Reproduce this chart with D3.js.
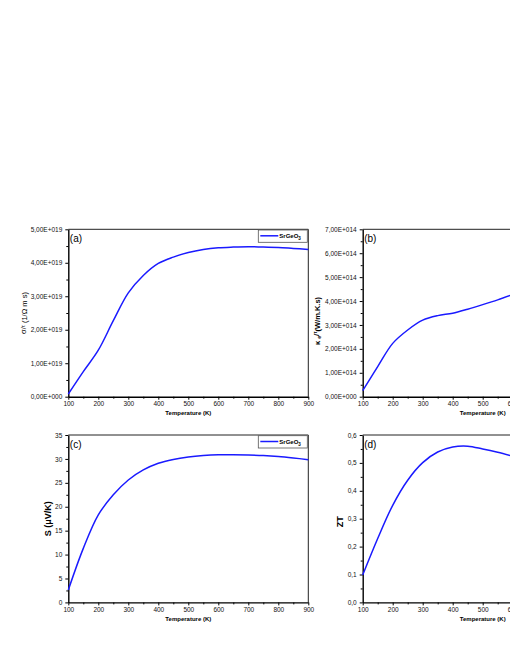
<!DOCTYPE html>
<meta charset="utf-8">
<body style="margin:0;overflow:hidden;background:#fff">
<style>
  text { font-family: "Liberation Sans", Arial, sans-serif; }
  .axis path.domain { stroke: #000; stroke-width: 1.4; }
  .axis line { stroke: #000; stroke-width: 1; }
</style>
<div id="chart"></div>
<script src="https://d3js.org/d3.v7.min.js"></script>
<script>
// temperature grid (K)
var tempsFull = [100, 150, 200, 250, 300, 350, 400, 450, 500, 550, 600, 650, 700, 750, 800, 850, 900];
var tempsShort = [100, 150, 200, 250, 300, 350, 400, 450, 500, 550, 600];

// (a) sigma/tau, in units of 1E+019
var sigmaTau = [0.08, 0.75, 1.39, 2.27, 3.1, 3.62, 3.98, 4.17, 4.31, 4.4, 4.45, 4.47, 4.48, 4.47, 4.46, 4.43, 4.4];
// (b) kappa_e/tau, in units of 1E+014 (only up to ~600 K is visible)
var kappaTau = [0.25, 1.26, 2.23, 2.79, 3.2, 3.39, 3.49, 3.66, 3.85, 4.05, 4.27];
// (c) Seebeck (uV/K)
var seebeck = [2.6, 11.3, 18.3, 22.5, 25.6, 27.7, 29.1, 29.9, 30.4, 30.7, 30.85, 30.85, 30.8, 30.7, 30.5, 30.2, 29.85];
// (d) ZT
var zt = [0.098, 0.229, 0.348, 0.438, 0.501, 0.539, 0.557, 0.56, 0.55, 0.538, 0.524];

var xTicks = [100, 200, 300, 400, 500, 600, 700, 800, 900];
var yTicksA = ["0,00E+000", "1,00E+019", "2,00E+019", "3,00E+019", "4,00E+019", "5,00E+019"];
var yTicksB = ["0,00E+000", "1,00E+014", "2,00E+014", "3,00E+014", "4,00E+014", "5,00E+014", "6,00E+014", "7,00E+014"];
var yTicksC = ["0", "5", "10", "15", "20", "25", "30", "35"];
var yTicksD = ["0,0", "0,1", "0,2", "0,3", "0,4", "0,5", "0,6"];

var svg = d3.select("#chart").append("svg")
  .attr("width", 620)
  .attr("height", 660);

var W = 240, H = 167.4;

function drawPanel(p) {
  var g = svg.append("g")
    .attr("transform", "translate(" + p.left + "," + p.top + ")");

  var x = d3.scaleLinear().domain([100, 900]).range([0, W]);
  var yMax = p.yStep * (p.yLabels.length - 1);
  var y = d3.scaleLinear().domain([0, yMax]).range([H, 0]);
  var yVals = p.yLabels.map(function(d, i) { return i * p.yStep; });
  var yMinor = yVals.slice(0, -1).map(function(v) { return v + p.yStep / 2; });
  var xMinor = xTicks.slice(0, -1).map(function(v) { return v + 50; });

  // frame (top and right)
  g.append("line").attr("x1", 0).attr("x2", W).attr("y1", 0).attr("y2", 0)
    .attr("stroke", "#222").attr("stroke-width", 1);
  g.append("line").attr("x1", W).attr("x2", W).attr("y1", 0).attr("y2", H)
    .attr("stroke", "#222").attr("stroke-width", 1);

  // minor ticks
  g.append("g").attr("class", "axis")
    .attr("transform", "translate(0," + H + ")")
    .call(d3.axisBottom(x).tickValues(xMinor).tickSize(2).tickFormat(""))
    .select(".domain").remove();
  g.append("g").attr("class", "axis")
    .call(d3.axisLeft(y).tickValues(yMinor).tickSize(2).tickFormat(""))
    .select(".domain").remove();

  // x axis
  var xa = g.append("g").attr("class", "axis")
    .attr("transform", "translate(0," + H + ")")
    .call(d3.axisBottom(x).tickValues(xTicks).tickSize(3).tickSizeOuter(0).tickPadding(2));
  xa.selectAll("text").attr("font-size", "6.5px").attr("fill", "#111")
    .attr("font-family", "Liberation Sans, Arial, sans-serif");

  // y axis
  var ya = g.append("g").attr("class", "axis")
    .call(d3.axisLeft(y).tickValues(yVals).tickSize(3).tickSizeOuter(0).tickPadding(3)
      .tickFormat(function(d, i) { return p.yLabels[i]; }));
  ya.selectAll("text").attr("font-size", "6.5px").attr("fill", "#111")
    .attr("font-family", "Liberation Sans, Arial, sans-serif");

  // curve
  var line = d3.line()
    .x(function(d) { return x(d[0]); })
    .y(function(d) { return y(d[1]); })
    .curve(d3.curveCatmullRom.alpha(0.5));
  g.append("path")
    .datum(d3.zip(p.temps, p.values))
    .attr("fill", "none")
    .attr("stroke", "#1a1aff")
    .attr("stroke-width", 1.5)
    .attr("d", line);

  // panel letter
  g.append("text")
    .attr("x", 1.5).attr("y", 13)
    .attr("font-size", "10px")
    .text(p.letter);

  // x title
  g.append("text")
    .attr("x", W / 2).attr("y", H + 18.5)
    .attr("text-anchor", "middle")
    .attr("font-size", "6px")
    .attr("font-weight", "bold")
    .text("Temperature (K)");

  // y title
  var yt = g.append("text")
    .attr("transform", "translate(" + p.ytx + "," + (H / 2 + p.yty) + ") rotate(-90)")
    .attr("text-anchor", "middle")
    .attr("font-size", p.ytSize)
    .attr("font-weight", p.ytWeight);
  p.ytParts.forEach(function(s) {
    var t = yt.append("tspan").text(s[0]);
    if (s[1] === "sub") t.attr("font-size", "70%").attr("dy", "0.3em");
    if (s[1] === "sup") t.attr("font-size", "70%").attr("dy", "-0.3em");
    if (s[1] === "back") t.attr("dy", s[2]);
  });

  // legend
  if (p.legend) {
    g.append("rect")
      .attr("x", W - 50).attr("y", 0.7)
      .attr("width", 49).attr("height", 12.3)
      .attr("fill", "#fff").attr("stroke", "#555").attr("stroke-width", 0.8);
    g.append("line")
      .attr("x1", W - 48).attr("x2", W - 30)
      .attr("y1", 6.5).attr("y2", 6.5)
      .attr("stroke", "#1a1aff").attr("stroke-width", 1.5);
    var lt = g.append("text")
      .attr("x", W - 29).attr("y", 9)
      .attr("font-size", "6px").attr("font-weight", "bold");
    lt.append("tspan").text("SrGeO");
    lt.append("tspan").text("3").attr("font-size", "4.5px").attr("dy", "1.5");
  }
}

drawPanel({
  left: 68.3, top: 229.3, letter: "(a)", temps: tempsFull, values: sigmaTau,
  yLabels: yTicksA, yStep: 1, legend: true,
  ytx: -42, yty: 0, ytSize: "7.5px", ytWeight: "normal",
  ytParts: [["σ/"], ["τ", "sup"], [" (1/Ω m s)", "back", "0.3em"]]
});

drawPanel({
  left: 362.7, top: 229.3, letter: "(b)", temps: tempsShort, values: kappaTau,
  yLabels: yTicksB, yStep: 1, legend: false,
  ytx: -43, yty: 8, ytSize: "7.5px", ytWeight: "bold",
  ytParts: [["κ "], ["e", "sub"], ["/", "back", "-0.3em"], ["τ", "sup"], ["(W/m.K.s)", "back", "0.3em"]]
});

drawPanel({
  left: 68.3, top: 435, letter: "(c)", temps: tempsFull, values: seebeck,
  yLabels: yTicksC, yStep: 5, legend: true,
  ytx: -17, yty: 0, ytSize: "9px", ytWeight: "bold",
  ytParts: [["S (μV/K)"]]
});

drawPanel({
  left: 362.7, top: 435, letter: "(d)", temps: tempsShort, values: zt,
  yLabels: yTicksD, yStep: 0.1, legend: false,
  ytx: -20, yty: 3, ytSize: "9px", ytWeight: "bold",
  ytParts: [["ZT"]]
});
</script>
</body>
